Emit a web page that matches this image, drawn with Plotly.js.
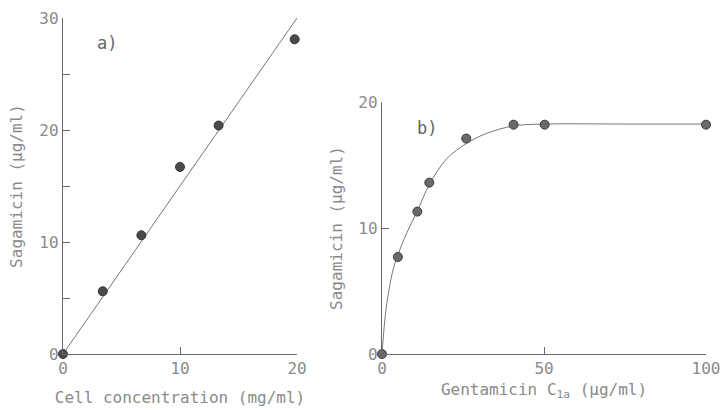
<!DOCTYPE html>
<html>
<head>
<meta charset="utf-8">
<script src="https://cdn.plot.ly/plotly-3.0.1.min.js"></script>
<style>html,body{margin:0;padding:0;background:#fff;}#chart{width:720px;height:410px;}</style>
</head>
<body>
<div id="chart"></div>
<script>
// Panel a: Sagamicin vs cell concentration
const cellConc = [0, 3.4, 6.7, 10.0, 13.3, 19.8];
const sagamicinA = [0, 5.6, 10.6, 16.7, 20.4, 28.1];
const fitLineX = [0, 20];
const fitLineY = [0, 30];

// Panel b: Sagamicin vs Gentamicin C1a
const gentamicin = [0, 4.9, 10.9, 14.6, 26.0, 40.6, 50.2, 100];
const sagamicinB = [0, 7.7, 11.3, 13.6, 17.1, 18.2, 18.2, 18.2];
const curveX = [0, 1.35, 3.4, 4.9, 7.6, 11.0, 14.7, 20.0, 26.0, 32.2, 40.6, 50.2, 75, 100];
const curveY = [0, 3.75, 6.67, 7.86, 9.58, 11.4, 13.5, 15.5, 16.7, 17.5, 18.1, 18.25, 18.25, 18.25];

const aTicks = [0, 10, 20];
const aYTicks = [0, 5, 10, 15, 20, 25, 30];
const aYTickText = ['0', '', '10', '', '20', '', '30'];
const bTicks = [0, 50, 100];
const bYTicks = [0, 10, 20];

const txt = '#8a8a8a';
const axc = '#6a6a6a';
const fnt = {family: 'DejaVu Sans Mono, monospace', size: 16, color: txt};

const traces = [
  {x: fitLineX, y: fitLineY, mode: 'lines', line: {color: '#777', width: 1}, xaxis: 'x', yaxis: 'y', hoverinfo: 'skip', cliponaxis: false},
  {x: cellConc, y: sagamicinA, mode: 'markers', marker: {size: 9, color: '#4a4a4a', line: {color: '#333', width: 1}}, xaxis: 'x', yaxis: 'y', cliponaxis: false},
  {x: curveX, y: curveY, mode: 'lines', line: {color: '#777', width: 1, shape: 'spline', smoothing: 1}, xaxis: 'x2', yaxis: 'y2', hoverinfo: 'skip', cliponaxis: false},
  {x: gentamicin, y: sagamicinB, mode: 'markers', marker: {size: 9, color: '#6a6a6a', line: {color: '#3a3a3a', width: 1}}, xaxis: 'x2', yaxis: 'y2', cliponaxis: false}
];

const common = {
  showgrid: false, zeroline: false, showline: true, linecolor: axc, linewidth: 1.2,
  tickcolor: axc, tickfont: fnt, ticklen: 7, tickwidth: 1, ticklabeloverflow: 'allow', ticks: 'inside'
};

const layout = {
  width: 720, height: 410,
  margin: {l: 0, r: 0, t: 0, b: 0},
  paper_bgcolor: '#fff', plot_bgcolor: '#fff',
  showlegend: false,
  font: fnt,
  xaxis: Object.assign({}, common, {
    domain: [63/720, 297/720], range: [0, 20], tickvals: aTicks, anchor: 'y',
    title: {text: 'Cell concentration (mg/ml)', font: fnt, standoff: 14}
  }),
  yaxis: Object.assign({}, common, {
    domain: [(410-354)/410, (410-18)/410], range: [0, 30], tickvals: aYTicks, ticktext: aYTickText, anchor: 'x',
    title: {text: 'Sagamicin (µg/ml)', font: fnt, standoff: 12}
  }),
  xaxis2: Object.assign({}, common, {
    domain: [382/720, 706/720], range: [0, 100], tickvals: bTicks, anchor: 'y2',
    title: {text: 'Gentamicin C<sub>1a</sub> (µg/ml)', font: fnt, standoff: 6}
  }),
  yaxis2: Object.assign({}, common, {
    domain: [(410-354)/410, (410-102)/410], range: [0, 20], tickvals: bYTicks, anchor: 'x2',
    title: {text: 'Sagamicin (µg/ml)', font: fnt, standoff: 11}
  }),
  annotations: [
    {text: 'a)', x: 3.76, y: 27.8, xref: 'x', yref: 'y', showarrow: false, font: {family: fnt.family, size: 17, color: '#666'}},
    {text: 'b)', x: 13.9, y: 17.9, xref: 'x2', yref: 'y2', showarrow: false, font: {family: fnt.family, size: 17, color: '#666'}}
  ]
};

Plotly.newPlot('chart', traces, layout, {displayModeBar: false, staticPlot: true});
</script>
</body>
</html>
